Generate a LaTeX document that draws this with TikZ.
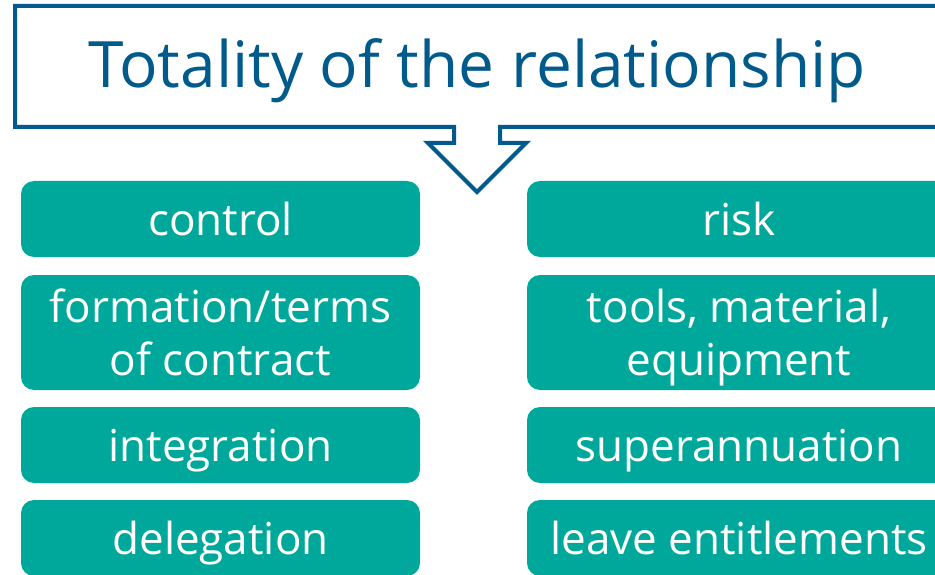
\documentclass[tikz,border=0pt]{standalone}
\usepackage{fontspec}
\setmainfont{Open Sans}
\usetikzlibrary{positioning}
\definecolor{calloutblue}{HTML}{005A8C}
\definecolor{boxteal}{HTML}{00A89C}
\tikzstyle{callout} = [draw=calloutblue, line width=4pt, miter limit=10, fill=white]
\tikzstyle{item} = [rectangle, fill=boxteal, text=white, rounded corners=13pt, align=center,
 minimum height=76pt, inner sep=0pt, text height=32pt, text depth=0pt,
 font=\fontsize{44}{53}\selectfont]
\tikzstyle{leftitem} = [item, minimum width=399pt]
\tikzstyle{rightitem} = [item, minimum width=424pt]
\tikzstyle{tall} = [minimum height=115pt, text height=85pt]

\begin{document}
\begin{tikzpicture}[x=1pt, y=-1pt]
        \clip (0,0) rectangle (935,575);
        \useasboundingbox (0,0) rectangle (935,575);

        % callout box with arrow
        \draw[callout] (15,6) -- (960,6) -- (960,127) -- (500,127) -- (500,143) -- (526,143)
              -- (477,192) -- (428,143) -- (454,143) -- (454,127) -- (15,127) -- cycle;
        \node[anchor=base, text=calloutblue, font=\fontsize{64}{64}\selectfont] (title) at (477,88)
              {Totality of the relationship};

        \node[leftitem]  (control) at (220.5,219)   {control};
        \node[leftitem, tall]  (terms) at (220.5,332.5) {formation/terms\\of contract};
        \node[leftitem]  (integ) at (220.5,445)     {integration};
        \node[leftitem]  (deleg) at (220.5,538)     {delegation};

        \node[rightitem] (risk) at (739,219)        {risk};
        \node[rightitem, tall] (tools) at (739,332.5) {tools, material,\\equipment};
        \node[rightitem] (super) at (739,445)       {superannuation};
        \node[rightitem] (leave) at (739,538)       {leave entitlements};
      \end{tikzpicture}
\end{document}
